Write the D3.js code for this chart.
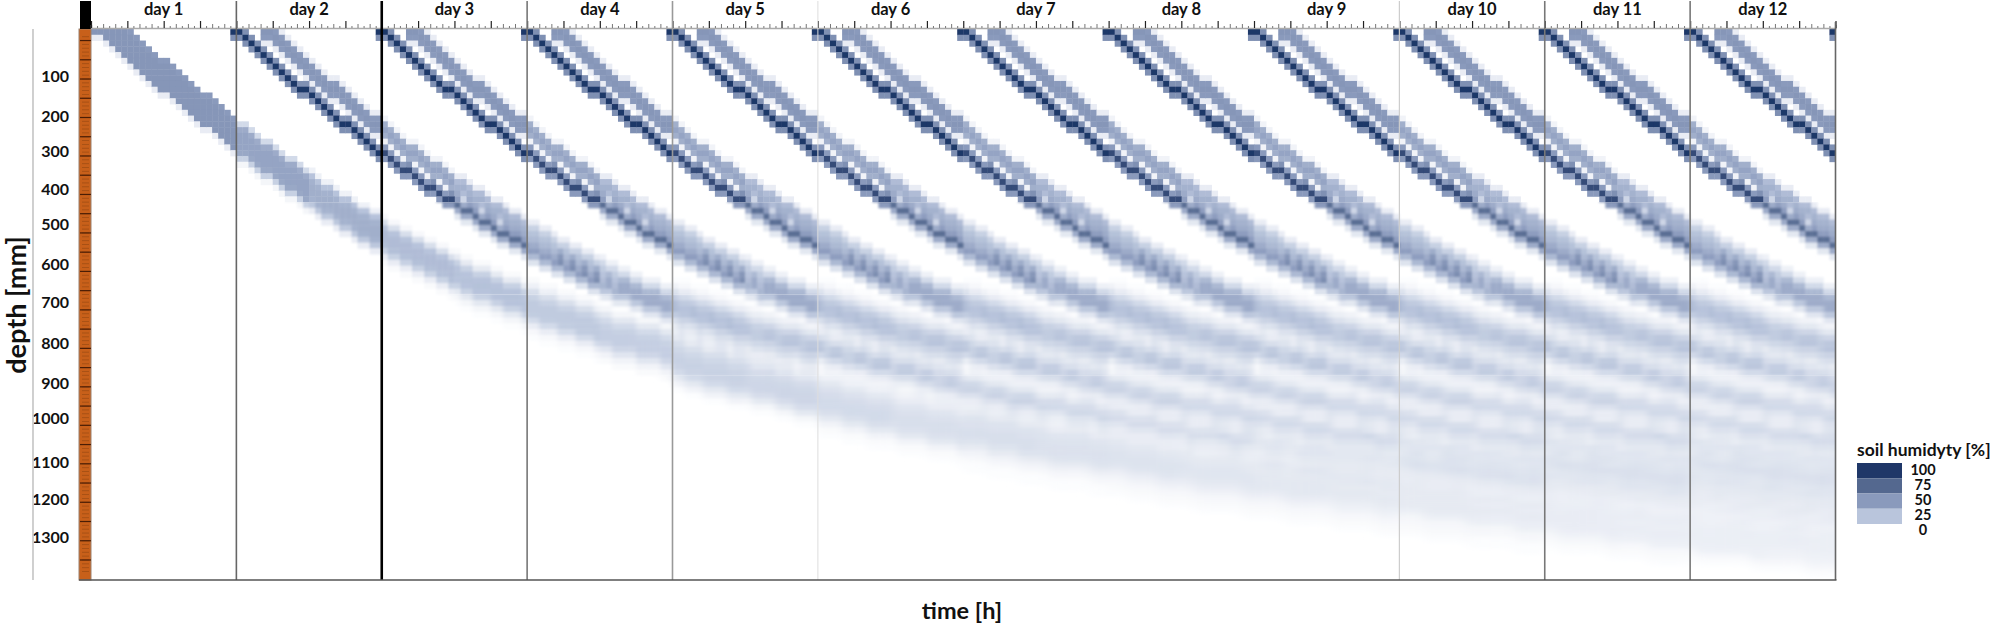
<!DOCTYPE html>
<html><head><meta charset="utf-8">
<style>html,body{margin:0;padding:0;background:#fff}svg{display:block}text{font-family:Lato,"Open Sans",sans-serif;font-weight:700;fill:#111}</style>
<script src="https://cdn.jsdelivr.net/npm/d3@7"></script>
</head><body><div id="c"></div>
<script>
// ---- data ----
const dayLabels = ["day 1","day 2","day 3","day 4","day 5","day 6","day 7","day 8","day 9","day 10","day 11","day 12"];
const depthTicks = [100,200,300,400,500,600,700,800,900,1000,1100,1200,1300];
const legendValues = [100,75,50,25];
const legendLabels = [100,75,50,25,0];
const humidityStops = [0,25,50,75,100];
const firstStarts = [0];
const darkStarts = [23,47,71,95,119,143,167,191,215,239,263,287];
const lightStarts = [28,52,76,100,124,148,172,196,220,244,268];
// depth [mm] of a wetting front, by hours since the front started
const frontDepth = [
 -20,-6,8,22,36,50,64,78,91,104,117,130,143,156,169,182,195,208,221,234,247,260,272,285,
 297,309,321,332,343,354,365,376,387,398,408,418,428,438,448,458,468,478,488,497,506,515,524,534,
 544,552,560,568,576,584,592,600,607,614,621,628,635,642,649,655,661,667,673,679,685,690,695,700,
 705,710,715,720,725,730,735,740,745,750,755,760,765,770,775,779,783,787,791,795,799,803,807,811,
 815,819,823,827,831,835,839,843,847,851,855,859,863,867,871,875,879,883,887,891,895,899,903,906,
 910,914,918,922,926,930,934,938,941,944,947,950,953,956,959,962,965,968,971,974,977,980,983,986,
 989,992,995,998,1001,1004,1007,1010,1013,1016,1019,1022,1025,1028,1031,1034,1036,1038,1040,1042,1044,1046,1048,1050,
 1053,1056,1059,1062,1065,1068,1071,1074,1077,1080,1082,1084,1086,1088,1090,1092,1094,1096,1098,1100,1102,1104,1106,1108,
 1110,1112,1114,1116,1118,1120,1122,1124,1126,1128,1130,1132,1134,1136,1138,1140,1142,1144,1146,1148,1150,1152,1154,1156,
 1158,1160,1162,1164,1166,1168,1170,1172,1174,1176,1178,1180,1182,1184,1186,1188,1190,1192,1194,1196,1198,1200,1202,1204,
 1206,1208,1210,1212,1214,1216,1218,1220,1222,1224,1226,1228,1230,1232,1234,1236,1238,1240,1242,1244,1246,1248,1250,1252,
 1254,1256,1257,1259,1261,1262,1264,1266,1267,1269,1271,1272,1274,1276,1277,1279,1281,1282,1284,1286,1287,1289,1291,1292,1294];
// humidity [%] across neighbouring depth cells, one row per half day of a band's age
const darkProfile = [
 [55,100,55],[55,100,55],[50,90,50],[10,40,72,40,10],[12,32,48,32,12],[10,24,34,24,10],
 [2,6,11,16,19,16,11,6,2],[2,5,10,14,17,14,10,5,2],
 [2,6,12,16,12,6,2],[2,5,11,15,11,5,2],
 [1,4,9,13,9,4,1],[1,4,8,11,8,4,1],[1,3,7,10,7,3,1],[1,3,6,9,6,3,1],
 [1,2,3,5,6,5,3,2,1],[1,2,3,4,5,4,3,2,1],[1,1,3,4,5,4,3,1,1],[1,1,3,4,5,4,3,1,1],
 [1,1,2,3,4,3,2,1,1],[1,1,2,3,4,3,2,1,1],[1,1,2,3,3,3,2,1,1],[1,1,2,3,3,3,2,1,1],
 [0,1,2,2,3,2,2,1,0],[0,1,2,2,3,2,2,1,0],[0,1,2,2,3,2,2,1,0]];
const lightProfile = [
 [8,50,52,50,8],[8,50,52,50,8],[5,38,44,38,5],[8,30,36,30,8],[8,20,27,20,8],[6,16,22,16,6],
 [1,3,6,10,12,10,6,3,1],[1,3,5,8,10,8,5,3,1],
 [1,4,8,11,8,4,1],[1,3,7,10,7,3,1],
 [1,3,6,8,6,3,1],[1,2,5,7,5,2,1],[1,2,4,6,4,2,1],[1,2,4,6,4,2,1],
 [1,1,2,3,4,3,2,1,1],[1,1,2,3,4,3,2,1,1],[0,1,2,3,4,3,2,1,0],[0,1,2,3,4,3,2,1,0],
 [0,1,2,3,3,3,2,1,0],[0,1,2,3,3,3,2,1,0],[0,1,1,2,3,2,1,1,0],[0,1,1,2,3,2,1,1,0],
 [0,1,1,2,2,2,1,1,0],[0,1,1,2,2,2,1,1,0],[0,1,1,2,2,2,1,1,0]];
// first, wide band; the eighth entry of each row sits on the front depth
const firstProfile = [
 [0,0,50,52,52,52,52,52,8],[0,0,50,52,52,52,52,52,8],[0,0,16,40,44,44,44,42,20,4],[0,0,6,26,36,38,38,36,24,8],
 [0,0,3,14,26,30,30,28,20,8,2],[0,0,2,9,20,26,27,26,20,10,4,1],[0,0,2,6,14,20,23,23,22,16,8,3,1],[0,0,1,4,10,16,20,21,21,18,11,5,2],
 [0,0,0,2,5,9,14,17,19,20,19,16,10,5,1],[0,0,0,1,3,7,11,15,17,18,18,15,10,4,1],
 [0,0,0,1,3,6,10,13,15,16,16,14,10,5,2,1],[0,0,0,1,2,5,8,11,13,14,14,13,10,5,2,1],
 [0,0,0,1,3,6,9,12,13,14,14,12,9,5,3,1,1],[0,0,0,1,2,5,8,11,12,13,13,12,9,5,3,1,1],
 [0,0,0,1,2,4,7,10,11,12,12,11,8,5,3,2,1],[0,0,0,1,2,4,6,9,10,11,11,10,8,5,3,2,1],
 [0,0,0,1,2,3,5,8,9,10,10,10,8,5,3,2,1],[0,0,0,1,2,3,5,7,9,9,10,9,7,5,3,2,1],
 [0,0,0,1,2,3,4,7,8,9,9,9,7,4,3,2,1],[0,0,0,1,2,3,4,6,8,8,9,8,7,4,3,1,1],
 [0,0,0,1,1,2,4,6,7,8,8,8,6,4,2,1],[0,0,0,1,1,2,3,6,7,7,8,7,6,3,2,1],
 [0,0,0,0,1,2,3,5,6,7,7,7,6,3,1],[0,0,0,0,1,2,3,5,6,7,7,6,5,3,1],[0,0,0,0,1,2,3,5,6,7,7,6,5,3,1]];

// ---- layout ----
const W=1998,H=626,L=91,R=1835.5,T=29,B=580;
const HOURS=288, ROW_MM=15, TOP_MM=-20, BOT_MM=1412;
const x=d3.scaleLinear().domain([0,HOURS]).range([L,R]);
const y=d3.scaleLinear().domain([TOP_MM,BOT_MM]).range([T,B]);
// tick labels follow their printed positions
const tickY=d3.scaleLinear().domain(depthTicks).range([76,116,151,189,224,264,302,343,383,418,462,499,537]);
const colour=d3.scaleLinear().domain(humidityStops).range(["#ffffff","#b9c5dc","#8a9abc","#54688f","#1f3768"]);

const svg=d3.select("#c").append("svg").attr("width",W).attr("height",H);
const defs=svg.append("defs");
// the soil picture softens with depth: zones of growing blur
const zones=[{id:"a",from:0,to:30,blur:"0.7"},{id:"b",from:30,to:46,blur:"1.1"},{id:"c",from:46,to:60,blur:"2 1.3"},{id:"d",from:60,to:74,blur:"3.5 1.5"},{id:"e",from:74,to:200,blur:"6 2"}];
const ROWS=Math.ceil((BOT_MM-TOP_MM)/ROW_MM);
const cw=x(1)-x(0), rh=y(TOP_MM+ROW_MM)-y(TOP_MM);
zones.forEach(z=>{
  const y0=y(TOP_MM+z.from*ROW_MM), y1=Math.min(B,y(TOP_MM+z.to*ROW_MM));
  defs.append("clipPath").attr("id","clip"+z.id).append("rect").attr("x",L).attr("y",y0).attr("width",R-L).attr("height",y1-y0);
  defs.append("filter").attr("id","soft"+z.id).attr("filterUnits","userSpaceOnUse")
    .attr("x",L-40).attr("y",y0-40).attr("width",R-L+80).attr("height",y1-y0+80)
    .append("feGaussianBlur").attr("stdDeviation",z.blur);
});

// ---- build the grid from bands ----
const grid=new Map();
function addBand(start,profiles,anchor){
  const base=Math.floor((start+1)/24)*24;
  for(let col=start;col<HOURS;col++){
    const age=col-start;
    const row=Math.floor((frontDepth[age]-TOP_MM)/ROW_MM);
    const p=profiles[Math.max(0,Math.floor((col-base)/12))];
    const a=anchor===undefined?(p.length-1)/2:anchor;
    p.forEach((v,i)=>{
      const r=row+i-a;
      if(!v||r<0||r>=ROWS) return;
      const k=col*1000+r;
      grid.set(k,(grid.get(k)||0)+v);
    });
  }
}
firstStarts.forEach(s=>addBand(s,firstProfile,7));
lightStarts.forEach(s=>addBand(s,lightProfile));
darkStarts.forEach(s=>addBand(s,darkProfile));
const cells=Array.from(grid,([k,v])=>({col:Math.floor(k/1000),row:k%1000,v:Math.min(100,v)}));

zones.forEach(z=>{
  const some=cells.filter(d=>d.row>=z.from-8&&d.row<z.to+8);
  svg.append("g").attr("clip-path",`url(#clip${z.id})`)
   .append("g").attr("filter",`url(#soft${z.id})`)
   .selectAll("rect").data(some).join("rect")
   .attr("x",d=>x(d.col)).attr("y",d=>y(TOP_MM+d.row*ROW_MM))
   .attr("width",d=>d.col===HOURS-1?cw+30:cw+0.4).attr("height",rh+0.4)
   .attr("fill",d=>colour(d.v));
});

// ---- soil strip ----
svg.append("rect").attr("x",79).attr("y",T).attr("width",12).attr("height",B-T).attr("fill","#c8601a").attr("stroke","#9a8272").attr("stroke-width",1);
svg.append("rect").attr("x",80).attr("y",1).attr("width",11).attr("height",T-1).attr("fill","#000");
const soilMinor=d3.range(0,1400,10), soilMajor=d3.range(10,1400,50);
svg.append("g").selectAll("line").data(soilMinor).join("line")
 .attr("x1",82).attr("x2",89).attr("y1",d=>y(d)).attr("y2",d=>y(d)).attr("stroke","#8a4310").attr("stroke-width",.8).attr("opacity",.65);
svg.append("g").selectAll("line").data(soilMajor).join("line")
 .attr("x1",80).attr("x2",91).attr("y1",d=>y(d)).attr("y2",d=>y(d)).attr("stroke","#4a1d05").attr("stroke-width",1.2);

// ---- top hour ruler ----
const hourTicks=d3.range(0,HOURS+1);
const topAxis=d3.axisTop(x).tickValues(hourTicks).tickSize(3).tickFormat("");
const ruler=svg.append("g").attr("transform",`translate(0,${T-1})`).call(topAxis);
ruler.select(".domain").attr("stroke","#aaa").attr("stroke-width",1.5);
ruler.selectAll(".tick line").attr("stroke",d=>d%6===0?"#222":"#777")
  .attr("y2",d=>d%6===0?-7:(d%2===0?-4:-2)).attr("stroke-width",d=>d%6===0?1.2:1);

// ---- day rules (only those visible in the picture) ----
const dayRules=[[1,"#666",1.6],[2,"#000",2.6],[3,"#777",1.6],[4,"#999",1.6],[5,"#ddd",1],[9,"#ccc",1.2],[10,"#777",1.6],[11,"#777",1.6],[12,"#666",1.6]];
svg.append("g").selectAll("line").data(dayRules).join("line")
 .attr("x1",d=>x(d[0]*24)).attr("x2",d=>x(d[0]*24)).attr("y1",d=>d[0]===12?T-7:1).attr("y2",B)
 .attr("stroke",d=>d[1]).attr("stroke-width",d=>d[2]);
svg.append("line").attr("x1",79).attr("x2",R+1).attr("y1",B).attr("y2",B).attr("stroke","#555").attr("stroke-width",1.4);

// ---- day labels ----
svg.append("g").selectAll("text").data(dayLabels).join("text")
 .attr("x",(d,i)=>x(i*24+12)).attr("y",15).attr("text-anchor","middle").attr("font-size",16.5).text(d=>d);

// ---- depth axis ----
const leftAxis=d3.axisLeft(tickY).tickValues(depthTicks).tickSize(0).tickPadding(0).tickFormat(d3.format("d"));
const ya=svg.append("g").attr("transform","translate(69,0)").call(leftAxis);
ya.select(".domain").remove();
ya.selectAll("text").attr("font-size",16).attr("font-family",'Lato,"Open Sans",sans-serif').attr("font-weight",700);
svg.append("line").attr("x1",33).attr("x2",33).attr("y1",T).attr("y2",B).attr("stroke","#c4c4c4").attr("stroke-width",1.6);

svg.append("text").attr("transform","translate(26,305) rotate(-90)").attr("text-anchor","middle").attr("font-size",27).text("depth [mm]");
svg.append("text").attr("x",962).attr("y",619).attr("text-anchor","middle").attr("font-size",23.5).text("time [h]");

// ---- legend ----
svg.append("text").attr("x",1857).attr("y",456).attr("font-size",17.5).text("soil humidyty [%]");
const legY=d3.scaleBand().domain(legendValues).range([463,524]);
svg.append("g").selectAll("rect").data(legendValues).join("rect")
 .attr("x",1857).attr("width",45).attr("y",d=>legY(d)).attr("height",legY.bandwidth()).attr("fill",d=>colour(d));
const legL=d3.scalePoint().domain(legendLabels).range([470,530]);
svg.append("g").selectAll("text").data(legendLabels).join("text")
 .attr("x",1923).attr("y",d=>legL(d)+5).attr("text-anchor","middle").attr("font-size",14.5).text(d=>d);
</script></body></html>
